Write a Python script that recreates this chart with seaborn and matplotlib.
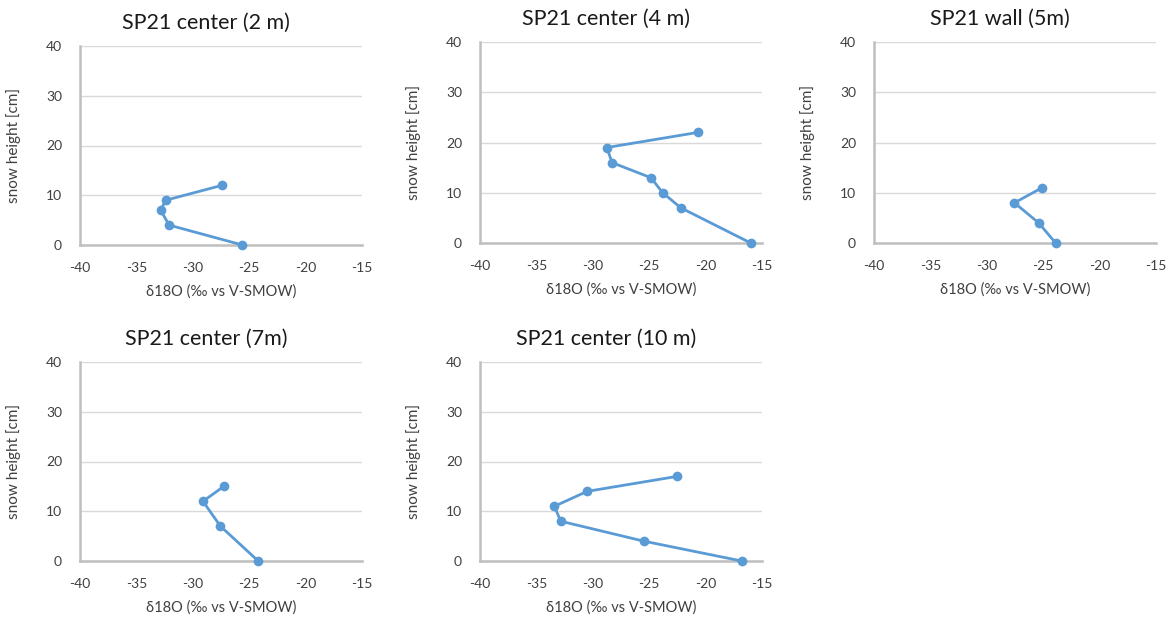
import matplotlib
matplotlib.use("Agg")
import matplotlib.pyplot as plt
import seaborn as sns
import pandas as pd

# Snow-pit isotope profiles: delta-18O against height in the snow column
titles = ["SP21 center (2 m)", "SP21 center (4 m)", "SP21 wall (5m)",
          "SP21 center (7m)", "SP21 center (10 m)"]

height_2m = [0, 4, 7, 9, 12]
d18o_2m = [-25.6, -32.1, -32.85, -32.4, -27.4]

height_4m = [0, 7, 10, 13, 16, 19, 22]
d18o_4m = [-16.0, -22.2, -23.8, -24.85, -28.3, -28.75, -20.7]

height_5m = [0, 4, 8, 11]
d18o_5m = [-23.9, -25.4, -27.55, -25.1]

height_7m = [0, 7, 12, 15]
d18o_7m = [-24.2, -27.55, -29.1, -27.25]

height_10m = [0, 4, 8, 11, 14, 17]
d18o_10m = [-16.8, -25.5, -32.85, -33.4, -30.5, -22.55]

x_ticks = [-40, -35, -30, -25, -20, -15]
y_ticks = [0, 10, 20, 30, 40]

profiles = [
    (height_2m, d18o_2m),
    (height_4m, d18o_4m),
    (height_5m, d18o_5m),
    (height_7m, d18o_7m),
    (height_10m, d18o_10m),
]

sns.set_theme(style="white")
plt.rcParams["font.family"] = ["Lato", "DejaVu Sans"]

W, H = 1173, 619
fig = plt.figure(figsize=(W / 100, H / 100), dpi=100)
fig.patch.set_facecolor("white")

# axes boxes in pixels: (left, top, right, bottom)
boxes = [
    (80, 46, 362, 245),
    (480, 42, 762, 243),
    (874, 42, 1156, 243),
    (80, 362, 362, 561),
    (480, 362, 762, 561),
]

line_color = "#5b9bd5"
axis_color = "#bfbfbf"
grid_color = "#d9d9d9"
text_color = "#404040"

for (l, t, r, b), title, (hgt, d18o) in zip(boxes, titles, profiles):
    ax = fig.add_axes([l / W, 1 - b / H, (r - l) / W, (b - t) / H])
    df = pd.DataFrame({"d18O": d18o, "height": hgt})
    sns.lineplot(data=df, x="d18O", y="height", sort=False, ax=ax,
                 color=line_color, linewidth=2, marker="o", markersize=7,
                 markeredgewidth=0, estimator=None, clip_on=False, zorder=5)
    ax.set_xlim(-40, -15)
    ax.set_ylim(0, 40)
    ax.set_xticks(x_ticks)
    ax.set_yticks(y_ticks)
    ax.set_xticklabels([str(v) for v in x_ticks])
    ax.set_yticklabels([str(v) for v in y_ticks])
    ax.grid(axis="y", color=grid_color, linewidth=1)
    ax.set_axisbelow(True)
    for side in ("top", "right"):
        ax.spines[side].set_visible(False)
    for side in ("left", "bottom"):
        ax.spines[side].set_color(axis_color)
        ax.spines[side].set_linewidth(1.8)
    ax.tick_params(axis="x", direction="in", length=5, width=1.2,
                   color=axis_color, labelsize=10, labelcolor=text_color, pad=12)
    ax.tick_params(axis="y", length=0, labelsize=10, labelcolor=text_color, pad=13)
    ax.set_xlabel("δ18O (‰ vs V-SMOW)", fontsize=10.5, color=text_color, labelpad=8)
    ax.set_ylabel("snow height [cm]", fontsize=11, color=text_color, labelpad=18)
    # title sits a little left of the plot-area centre
    shift = 15 / (r - l)
    ax.set_title(title, fontsize=15.5, color="#1a1a1a", pad=12, x=0.5 - shift)

fig.savefig("out.png", dpi=100, facecolor="white")
